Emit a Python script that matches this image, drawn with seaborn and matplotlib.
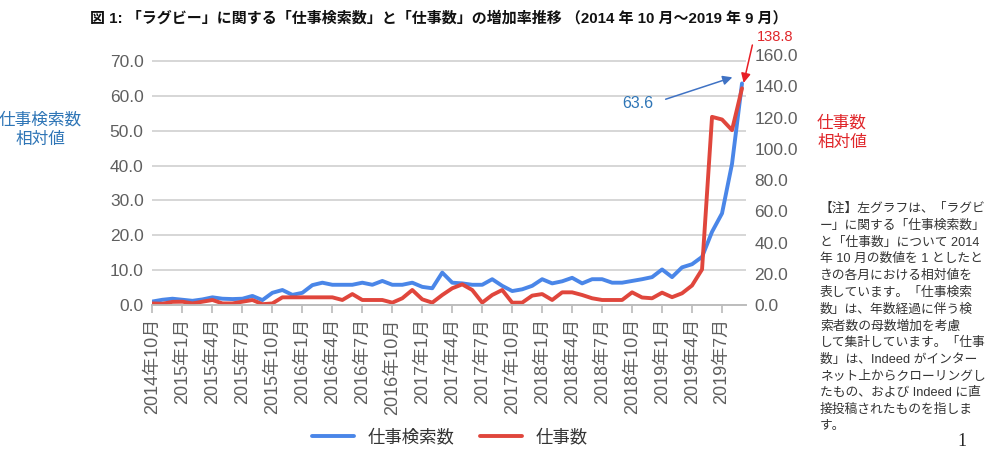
import numpy as np
import pandas as pd
import matplotlib
matplotlib.use("Agg")
import matplotlib.pyplot as plt
import seaborn as sns

# monthly relative values (Oct 2014 = 1), Oct 2014 .. Sep 2019
search_counts = [1.0, 1.5, 1.8, 1.5, 1.2, 1.6, 2.2, 1.8, 1.7, 1.8,
                 2.6, 1.4, 3.5, 4.3, 2.9, 3.5, 5.7, 6.4, 5.8, 5.8,
                 5.8, 6.4, 5.8, 6.9, 5.8, 5.8, 6.4, 5.2, 4.8, 9.3,
                 6.4, 6.2, 5.8, 5.8, 7.4, 5.5, 4.0, 4.5, 5.5, 7.4,
                 6.2, 6.8, 7.8, 6.2, 7.4, 7.4, 6.4, 6.4, 6.9, 7.4,
                 8.0, 10.2, 8.0, 10.8, 11.7, 13.8, 21.0, 26.3, 40.5, 63.6]
job_counts = [1.0, 0.8, 2.0, 2.1, 1.0, 2.1, 3.2, 1.0, 1.0, 2.1,
              3.2, 0.5, 1.0, 4.9, 4.9, 4.9, 4.9, 4.9, 4.9, 3.2,
              7.0, 3.2, 3.2, 3.2, 1.5, 4.3, 9.6, 3.6, 1.5, 6.4,
              10.7, 13.2, 9.6, 1.5, 6.4, 9.6, 1.5, 1.5, 6.0, 7.0,
              3.2, 8.1, 8.1, 6.4, 4.3, 3.2, 3.2, 3.2, 8.1, 4.8,
              4.3, 7.9, 5.0, 7.5, 12.5, 22.8, 120.5, 118.8, 112.0, 138.8]
tick_labels = ["2014年10月", "2015年1月", "2015年4月", "2015年7月", "2015年10月",
               "2016年1月", "2016年4月", "2016年7月", "2016年10月",
               "2017年1月", "2017年4月", "2017年7月", "2017年10月",
               "2018年1月", "2018年4月", "2018年7月", "2018年10月",
               "2019年1月", "2019年4月", "2019年7月"]
left_ticks = [0, 10, 20, 30, 40, 50, 60, 70]
right_ticks = [0, 20, 40, 60, 80, 100, 120, 140, 160]

blue = "#4A86E8"
red = "#E0463C"
grey = "#5f5f5f"

sns.set_theme(style="white")
plt.rcParams["font.family"] = ["Liberation Sans", "Noto Sans CJK JP", "DejaVu Sans"]

df = pd.DataFrame({"month": np.arange(len(search_counts)),
                   "search": search_counts, "jobs": job_counts})

fig = plt.figure(figsize=(10, 4.55), dpi=100)
ax = fig.add_axes([0.152, 0.3297, 0.594, 0.549])
ax2 = ax.twinx()

sns.lineplot(data=df, x="month", y="search", ax=ax, color=blue, lw=2.8,
             label="仕事検索数", legend=False)
sns.lineplot(data=df, x="month", y="jobs", ax=ax2, color=red, lw=2.8,
             label="仕事数", legend=False)

ax.set_xlim(-0.05, len(search_counts) - 0.6)
ax.set_ylim(0, 71.7)
ax2.set_ylim(0, 160)
ax.set_yticks(left_ticks)
ax.set_yticklabels([f"{v:.1f}" for v in left_ticks])
ax2.set_yticks(right_ticks)
ax2.set_yticklabels([f"{v:.1f}" for v in right_ticks])
ax.set_xticks(np.arange(0, len(search_counts), 3))
ax.set_xticklabels(tick_labels, rotation=90)
ax.set_xlabel("")
ax.set_ylabel("")
ax2.set_ylabel("")

ax.grid(axis="y", color="#d0d0d0", lw=1.2)
ax.set_axisbelow(True)
for a in (ax, ax2):
    for s in ("top", "left", "right"):
        a.spines[s].set_visible(False)
    a.spines["bottom"].set_color("#bdbdbd")
    a.tick_params(axis="y", length=0, labelsize=12.5, labelcolor=grey, pad=6)
ax.tick_params(axis="x", length=6, color="#bdbdbd", labelsize=13,
               labelcolor=grey, direction="out", bottom=True)

# axis titles
fig.text(0.04, 0.715, "仕事検索数\n相対値", color="#2E75B6", fontsize=12,
         ha="center", va="center", linespacing=1.35)
fig.text(0.842, 0.71, "仕事数\n相対値", color="#E0262A", fontsize=12,
         ha="center", va="center", linespacing=1.35)

# callouts
fig.text(0.638, 0.772, "63.6", color="#2E75B6", fontsize=11.5, ha="center", va="center")
ax.annotate("", xy=(58.3, 65.6), xytext=(0.663, 0.78), textcoords="figure fraction",
            arrowprops=dict(arrowstyle="-|>", color="#3F72C4", lw=1.1, mutation_scale=14))
fig.text(0.757, 0.918, "138.8", color="#E0262A", fontsize=10.5, ha="left", va="center")
ax2.annotate("", xy=(59.1, 140.5), xytext=(0.753, 0.907), textcoords="figure fraction",
             arrowprops=dict(arrowstyle="-|>", color="#E81E25", lw=1.1, mutation_scale=14))

# title
fig.text(0.09, 0.96, "図 1: 「ラグビー」に関する「仕事検索数」と「仕事数」の増加率推移 （2014 年 10 月～2019 年 9 月）",
         fontsize=10.8, fontweight="bold", ha="left", va="center", color="#111111")

# legend
handles = [ax.get_lines()[0], ax2.get_lines()[0]]
fig.legend(handles, ["仕事検索数", "仕事数"], loc="center", bbox_to_anchor=(0.45, 0.04),
           ncol=2, frameon=False, fontsize=12.5, handlelength=2.4, columnspacing=1.5,
           labelcolor="#333333")

# note on the right
note = ("【注】左グラフは、「ラグビ\n"
        "ー」に関する「仕事検索数」\n"
        "と「仕事数」について 2014\n"
        "年 10 月の数値を 1 としたと\n"
        "きの各月における相対値を\n"
        "表しています。「仕事検索\n"
        "数」は、年数経過に伴う検\n"
        "索者数の母数増加を考慮\n"
        "して集計しています。「仕事\n"
        "数」は、Indeed がインター\n"
        "ネット上からクローリングし\n"
        "たもの、および Indeed に直\n"
        "接投稿されたものを指しま\n"
        "す。")
fig.text(0.82, 0.555, note, fontsize=9.2, ha="left", va="top", color="#333333",
         linespacing=1.5)
fig.text(0.962, 0.03, "1", fontsize=13, family="Liberation Serif", ha="center", va="center")

fig.savefig("out.png", dpi=100)
